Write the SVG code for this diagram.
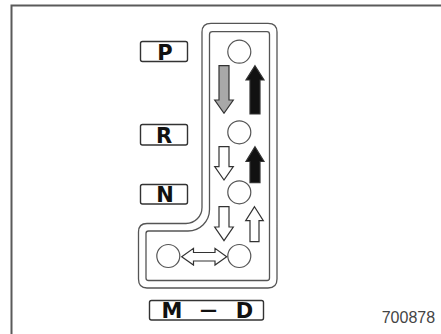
<svg xmlns="http://www.w3.org/2000/svg" width="441" height="334" viewBox="0 0 441 334">
<style>
.frame{fill:none;stroke:#5a5a5a;stroke-width:2}
.gate{fill:none;stroke:#555;stroke-width:1.3;stroke-linejoin:round}
.lbl{fill:#fff;stroke:#333;stroke-width:1.4}
.lt{font-family:"DejaVu Sans","Liberation Sans",Arial,sans-serif;font-weight:bold;font-size:21px;fill:#111;text-anchor:middle}
.pos{fill:#fff;stroke:#555;stroke-width:1.2}
.ar{stroke:#333;stroke-width:1.2;stroke-linejoin:miter}
.gray{fill:#a8a8a8}
.blk{fill:#111}
.wht{fill:#fff}
.num{font-family:"Liberation Sans",Arial,sans-serif;font-size:16px;fill:#444}
</style>
<rect width="441" height="334" fill="#fff"/>
<path class="frame" d="M11.5,334 V5.5 H441"/>
<g id="gate">
<path class="gate" d="M211,23.3 H268 Q277,23.3 277,32 V279 Q277,288 268,288 H147 Q138.5,288 138.5,279 V232 Q138.5,223.5 147,223.5 H186 A16 16 0 0 0 202,207.5 V32 Q202,23.3 211,23.3 Z"/>
<path class="gate" d="M212.5,31.7 H267 Q269.5,31.7 269.5,34.5 V278 Q269.5,280.5 267,280.5 H148.5 Q146,280.5 146,278 V233.5 Q146,231 148.5,231 H188 A21.5 21.5 0 0 0 209.5,209.5 V34.5 Q209.5,31.7 212.5,31.7 Z"/>
</g>
<g id="label-P"><rect class="lbl" x="140.5" y="41.5" width="47" height="20" rx="2"/><text class="lt" x="165" y="60">P</text></g>
<g id="label-R"><rect class="lbl" x="140.5" y="124.5" width="47" height="20.5" rx="2"/><text class="lt" x="164" y="143.3">R</text></g>
<g id="label-N"><rect class="lbl" x="140.5" y="184.5" width="47" height="19.5" rx="2"/><text class="lt" x="165" y="201.7">N</text></g>
<g id="label-MD"><rect class="lbl" x="149.5" y="300.5" width="114" height="19.5" rx="2"/><text class="lt" x="172" y="318"><tspan x="172">M</tspan><tspan x="208.5" dy="-2" font-size="17px">—</tspan><tspan x="244.5" dy="2">D</tspan></text></g>
<g id="pos-P"><circle class="pos" cx="239.3" cy="51.7" r="11.5"/></g>
<g id="pos-R"><circle class="pos" cx="239.3" cy="132.3" r="11.5"/></g>
<g id="pos-N"><circle class="pos" cx="239.3" cy="192.3" r="11.5"/></g>
<g id="pos-D"><circle class="pos" cx="239.3" cy="256" r="11.5"/></g>
<g id="pos-M"><circle class="pos" cx="168.3" cy="256" r="11.5"/></g>
<g id="connectors">
<path class="ar gray" d="M219,65.7 H229 V100 H233.3 L224,113.3 L214.7,100 H219 Z"/>
<path class="ar blk" d="M255,65.7 L264,80 H260 V114 H250 V80 H246 Z"/>
<path class="ar wht" d="M219,146.7 H229 V166.7 H233.3 L224,180 L214.7,166.7 H219 Z"/>
<path class="ar blk" d="M255,146.7 L264,161.5 H260 V182.7 H250 V161.5 H246 Z"/>
<path class="ar wht" d="M219,206.7 H229 V227 H233.3 L224,240.7 L214.7,227 H219 Z"/>
<path class="ar wht" d="M254.5,206.7 L263.3,220.7 H259 V241.7 H250 V220.7 H245.7 Z"/>
<path class="ar wht" d="M181.7,256.7 L193.5,248.3 V252.5 H215 V248.3 L226.7,256.7 L215,265 V261 H193.5 V265 Z"/>
</g>
<text class="num" x="381.7" y="323.3">700878</text>
</svg>
